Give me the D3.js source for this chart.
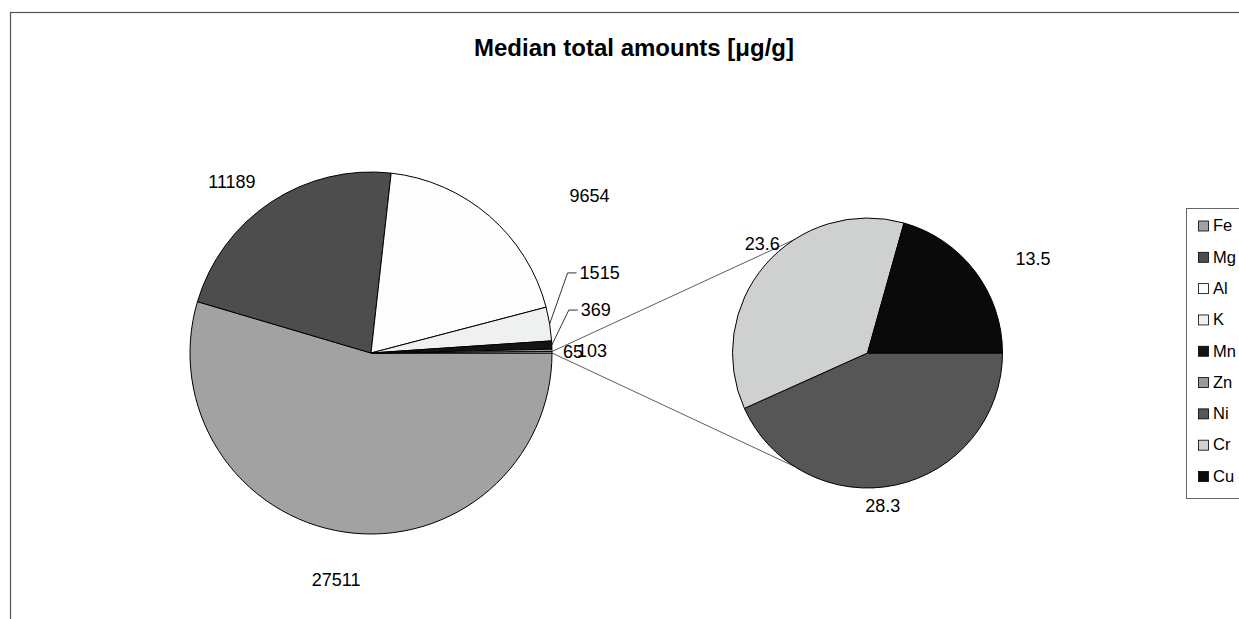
<!DOCTYPE html>
<html>
<head>
<meta charset="utf-8">
<script src="https://cdnjs.cloudflare.com/ajax/libs/d3/7.8.5/d3.min.js"></script>
<style>
  body { margin: 0; background: #fff; }
  svg { display: block; font-family: Arial, "Liberation Sans", sans-serif; }
</style>
</head>
<body>
<svg id="svg"></svg>
<script>
// data
var categories = ["Fe", "Mg", "Al", "K", "Mn", "Zn", "Ni", "Cr", "Cu"];
var values = [27511, 11189, 9654, 1515, 369, 103, 28.3, 23.6, 13.5];
var splitCount = 6; // first 6 in main pie, rest go to "Other"
var titleText = "Median total amounts [\u03bcg/g]";

// styles
var fills = ["#a2a2a2", "#4d4d4d", "#fdfdfd", "#eff1f1", "#141414", "#9a9a9a", "#565656", "#cfd1d1", "#0a0a0a"];
var otherFill = "#ffffff";

var W = 1239, H = 619;
var svg = d3.select("#svg").attr("width", W).attr("height", H);

// chart area border (right/bottom edges fall outside the picture)
svg.append("rect")
  .attr("x", 10.5).attr("y", 12.5)
  .attr("width", W + 20).attr("height", H + 20)
  .attr("fill", "none").attr("stroke", "#555").attr("stroke-width", 1.2);

svg.append("text")
  .attr("x", 634).attr("y", 56)
  .attr("text-anchor", "middle")
  .attr("font-size", 24).attr("font-weight", "bold")
  .text(titleText);

var mainData = categories.slice(0, splitCount).map(function (c, i) {
  return { name: c, value: values[i], fill: fills[i] };
});
var otherSum = d3.sum(values.slice(splitCount));
mainData.push({ name: "Other", value: otherSum, fill: otherFill });
var subData = categories.slice(splitCount).map(function (c, i) {
  return { name: c, value: values[splitCount + i], fill: fills[splitCount + i] };
});

var pie = d3.pie().sort(null).value(function (d) { return d.value; })
  .startAngle(Math.PI / 2).endAngle(Math.PI / 2 + 2 * Math.PI);

var main = { cx: 371, cy: 353, r: 181 };
var sub = { cx: 867.5, cy: 353, r: 135 };

function pt(p, a, r) {
  return [p.cx + r * Math.sin(a), p.cy - r * Math.cos(a)];
}

var mainArcs = pie(mainData);
var subArcs = pie(subData);

// connector lines from "Other" slice to second pie
var oth = mainArcs[mainArcs.length - 1];
var a1 = pt(main, oth.startAngle, main.r), a2 = pt(main, oth.endAngle, main.r);
var connAng = 33 * Math.PI / 180;
var b1 = [sub.cx - sub.r * Math.sin(connAng), sub.cy - sub.r * Math.cos(connAng)];
var b2 = [sub.cx - sub.r * Math.sin(connAng), sub.cy + sub.r * Math.cos(connAng)];
svg.append("line").attr("x1", a1[0]).attr("y1", a1[1]).attr("x2", b1[0]).attr("y2", b1[1])
  .attr("stroke", "#333").attr("stroke-width", 0.8);
svg.append("line").attr("x1", a2[0]).attr("y1", a2[1]).attr("x2", b2[0]).attr("y2", b2[1])
  .attr("stroke", "#333").attr("stroke-width", 0.8);

function drawPie(p, arcs) {
  var arc = d3.arc().innerRadius(0).outerRadius(p.r);
  svg.append("g").attr("transform", "translate(" + p.cx + "," + p.cy + ")")
    .selectAll("path")
    .data(arcs)
    .enter()
    .append("path")
    .attr("d", arc)
    .attr("fill", function (d) { return d.data.fill; })
    .attr("stroke", "#000")
    .attr("stroke-width", 1);
}
drawPie(main, mainArcs);
drawPie(sub, subArcs);

// label offsets from slice edge midpoint
var nudge = {
  Fe: [-9, 48], Mg: [-39, -20], Al: [100, -20], K: [50, -51], Mn: [44, -35],
  Zn: [40, 0], Other: [21, -1], Ni: [-13, 21], Cr: [-3, -21], Cu: [58, -13]
};
var leaders = { K: true, Mn: true };

function drawLabels(p, arcs, fmt) {
  arcs.forEach(function (d) {
    var mid = (d.startAngle + d.endAngle) / 2;
    var e = pt(p, mid, p.r);
    var n = nudge[d.data.name];
    var x = e[0] + n[0], y = e[1] + n[1];
    var t = svg.append("text")
      .attr("x", x).attr("y", y).attr("dy", "0.35em")
      .attr("text-anchor", "middle")
      .attr("font-size", 18)
      .text(fmt(d.data.value));
    if (leaders[d.data.name]) {
      var w = t.node().getComputedTextLength();
      var left = x - w / 2;
      svg.append("polyline")
        .attr("points", [e, [left - 12, y], [left - 3, y]].map(function (q) { return q.join(","); }).join(" "))
        .attr("fill", "none").attr("stroke", "#000").attr("stroke-width", 0.8);
    }
  });
}
drawLabels(main, mainArcs, d3.format(".0f"));
drawLabels(sub, subArcs, d3.format(".1f"));

// legend
var legend = svg.append("g");
legend.append("rect")
  .attr("x", 1186.5).attr("y", 208.5)
  .attr("width", 80).attr("height", 290)
  .attr("fill", "#fff").attr("stroke", "#666").attr("stroke-width", 1);
var ly = d3.scalePoint().domain(categories).range([225.5, 476]);
var items = legend.selectAll("g.item")
  .data(categories)
  .enter()
  .append("g")
  .attr("transform", function (d) { return "translate(1198," + ly(d) + ")"; });
items.append("rect")
  .attr("x", 0.5).attr("y", -4.5).attr("width", 10).attr("height", 10)
  .attr("fill", function (d, i) { return fills[i]; })
  .attr("stroke", "#000").attr("stroke-width", 0.8);
items.append("text")
  .attr("x", 15).attr("dy", "0.35em")
  .attr("font-size", 16.5)
  .text(function (d) { return d; });
</script>
</body>
</html>
